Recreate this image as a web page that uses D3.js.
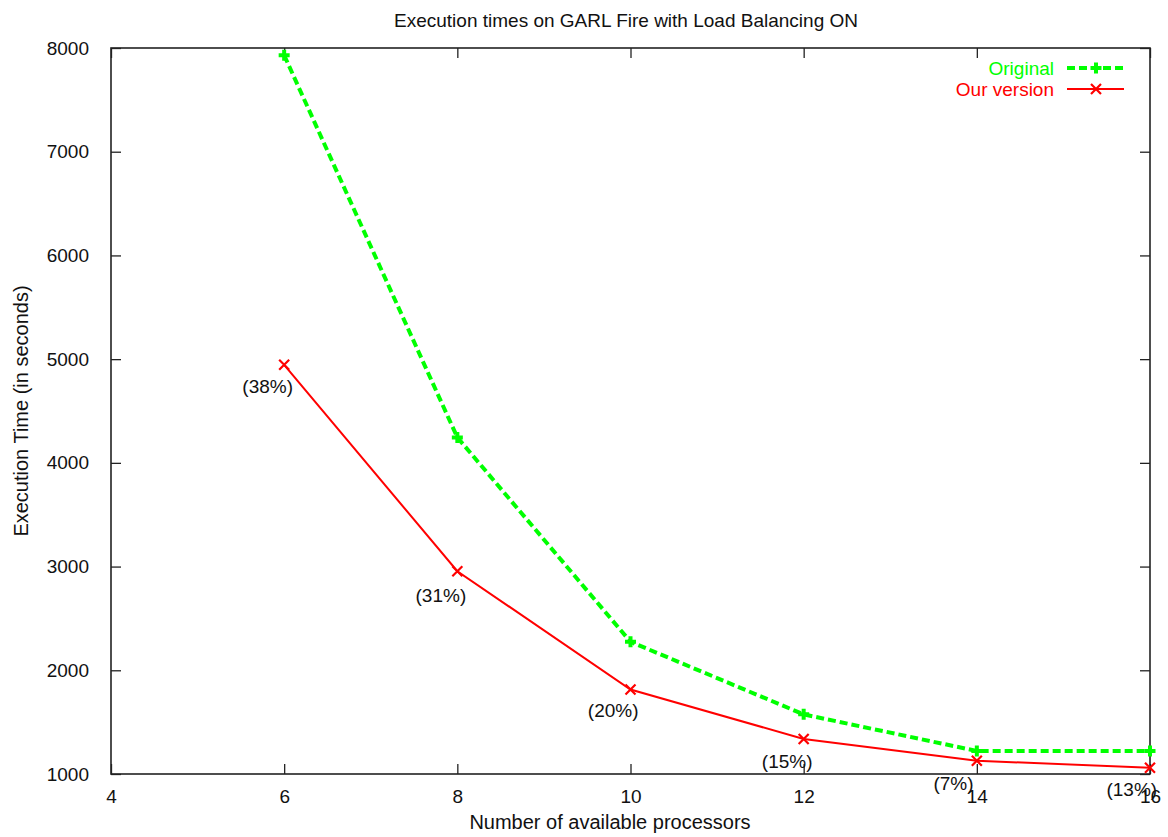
<!DOCTYPE html>
<meta charset="utf-8">
<style>
body {
  margin: 0;
  background: #fff;
  font-family: "Liberation Sans", Arial, sans-serif;
}
text {
  font-family: "Liberation Sans", Arial, sans-serif;
}
</style>
<body>
<svg width="1168" height="837"></svg>
<script src="https://d3js.org/d3.v7.min.js"></script>
<script>
// processors on the x axis
var processors = [6, 8, 10, 12, 14, 16];
// execution times in seconds
var original = [7930, 4245, 2275, 1575, 1222, 1222];
var ourVersion = [4945, 2955, 1815, 1338, 1128, 1060];
// gain labels and where they sit (data coordinates)
var gainLabels = ["(38%)", "(31%)", "(20%)", "(15%)", "(7%)", "(13%)"];
var gainX = [5.81, 7.81, 9.80, 11.81, 13.73, 15.79];
var gainY = [4735, 2725, 1610, 1118, 912, 855];
var xTicks = [4, 6, 8, 10, 12, 14, 16];
var yTicks = [1000, 2000, 3000, 4000, 5000, 6000, 7000, 8000];

var svg = d3.select("svg"),
    margin = {top: 48, right: 18, bottom: 63, left: 111},
    width = +svg.attr("width") - margin.left - margin.right,
    height = +svg.attr("height") - margin.top - margin.bottom;

var x = d3.scaleLinear().domain([4, 16]).range([0, width]),
    y = d3.scaleLinear().domain([1000, 8000]).range([height, 0]);

var g = svg.append("g")
    .attr("transform", "translate(" + margin.left + "," + margin.top + ")");

var tickLen = 10;
var fs = "19px";

// axes with inward ticks, mirrored like gnuplot
g.append("g")
    .attr("transform", "translate(0," + height + ")")
    .call(d3.axisBottom(x).tickValues(xTicks).tickSize(-tickLen).tickPadding(16).tickFormat(d3.format("d")))
    .call(function(a) { a.select(".domain").remove(); });
g.append("g")
    .call(d3.axisTop(x).tickValues(xTicks).tickSize(-tickLen).tickFormat(""))
    .call(function(a) { a.select(".domain").remove(); });
g.append("g")
    .call(d3.axisLeft(y).tickValues(yTicks).tickSize(-tickLen).tickPadding(22).tickFormat(d3.format("d")))
    .call(function(a) { a.select(".domain").remove(); });
g.append("g")
    .attr("transform", "translate(" + width + ",0)")
    .call(d3.axisRight(y).tickValues(yTicks).tickSize(-tickLen).tickFormat(""))
    .call(function(a) { a.select(".domain").remove(); });

g.selectAll(".tick line").attr("stroke", "#222").attr("stroke-width", 1.3);
g.selectAll(".tick text")
    .attr("fill", "#111")
    .style("font-size", fs)
    .style("font-family", "'Liberation Sans', Arial, sans-serif");

g.append("rect")
    .attr("width", width)
    .attr("height", height)
    .attr("fill", "none")
    .attr("stroke", "#222")
    .attr("stroke-width", 1.6);

var line = d3.line()
    .x(function(d) { return x(d[0]); })
    .y(function(d) { return y(d[1]); });

var origData = processors.map(function(p, i) { return [p, original[i]]; });
var ourData = processors.map(function(p, i) { return [p, ourVersion[i]]; });

function plusMarker(sel, s) {
  sel.append("path")
      .attr("d", "M" + (-s) + ",0H" + s + "M0," + (-s) + "V" + s)
      .attr("stroke", "#00ff00")
      .attr("stroke-width", 4)
      .attr("fill", "none");
}
function crossMarker(sel, s) {
  sel.append("path")
      .attr("d", "M" + (-s) + "," + (-s) + "L" + s + "," + s + "M" + (-s) + "," + s + "L" + s + "," + (-s))
      .attr("stroke", "#ff0000")
      .attr("stroke-width", 2.2)
      .attr("fill", "none");
}

// Original series
g.append("path")
    .datum(origData)
    .attr("d", line)
    .attr("fill", "none")
    .attr("stroke", "#00ff00")
    .attr("stroke-width", 4)
    .attr("stroke-dasharray", "8,4");
g.selectAll(".pt-orig")
    .data(origData)
    .enter().append("g")
      .attr("class", "pt-orig")
      .attr("transform", function(d) { return "translate(" + x(d[0]) + "," + y(d[1]) + ")"; })
      .each(function() { plusMarker(d3.select(this), 5.5); });

// Our version series
g.append("path")
    .datum(ourData)
    .attr("d", line)
    .attr("fill", "none")
    .attr("stroke", "#ff0000")
    .attr("stroke-width", 2);
g.selectAll(".pt-our")
    .data(ourData)
    .enter().append("g")
      .attr("class", "pt-our")
      .attr("transform", function(d) { return "translate(" + x(d[0]) + "," + y(d[1]) + ")"; })
      .each(function() { crossMarker(d3.select(this), 5); });

// gain labels
g.selectAll(".gain")
    .data(gainLabels)
    .enter().append("text")
      .attr("class", "gain")
      .attr("x", function(d, i) { return x(gainX[i]); })
      .attr("y", function(d, i) { return y(gainY[i]); })
      .attr("dy", "0.35em")
      .attr("text-anchor", "middle")
      .style("font-size", fs)
      .attr("fill", "#111")
      .text(function(d) { return d; });

// legend
var legend = [
  {name: "Original", color: "#00ff00", dash: "8,4", w: 4, marker: plusMarker, s: 5.5},
  {name: "Our version", color: "#ff0000", dash: null, w: 2, marker: crossMarker, s: 5}
];
var lg = g.selectAll(".legend")
    .data(legend)
    .enter().append("g")
      .attr("class", "legend")
      .attr("transform", function(d, i) { return "translate(" + (width - 83) + "," + (20 + i * 21) + ")"; });
lg.append("text")
    .attr("x", -13)
    .attr("dy", "0.35em")
    .attr("text-anchor", "end")
    .style("font-size", fs)
    .attr("fill", function(d) { return d.color; })
    .text(function(d) { return d.name; });
lg.append("line")
    .attr("x1", 0)
    .attr("x2", 57)
    .attr("stroke", function(d) { return d.color; })
    .attr("stroke-width", function(d) { return d.w; })
    .attr("stroke-dasharray", function(d) { return d.dash; });
lg.each(function(d) {
  var m = d3.select(this).append("g").attr("transform", "translate(29,0)");
  d.marker(m, d.s);
});

// titles
svg.append("text")
    .attr("x", 626)
    .attr("y", 27)
    .attr("text-anchor", "middle")
    .style("font-size", fs)
    .attr("fill", "#111")
    .text("Execution times on GARL Fire with Load Balancing ON");

svg.append("text")
    .attr("x", 610)
    .attr("y", 829)
    .attr("text-anchor", "middle")
    .style("font-size", "20px")
    .attr("fill", "#111")
    .text("Number of available processors");

svg.append("text")
    .attr("transform", "translate(28," + (margin.top + height / 2) + ") rotate(-90)")
    .attr("text-anchor", "middle")
    .style("font-size", "20px")
    .attr("fill", "#111")
    .text("Execution Time (in seconds)");
</script>
</body>
